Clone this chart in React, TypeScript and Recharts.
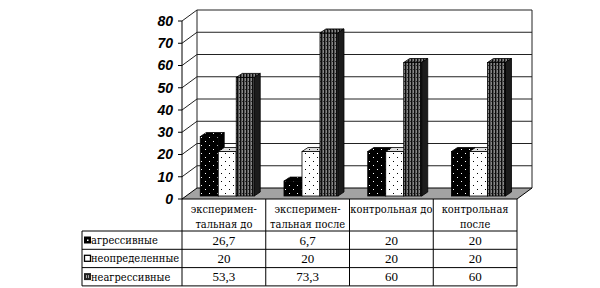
import { BarChart, Bar, XAxis, YAxis, CartesianGrid } from "recharts"

const categories = ["экспериментальная до", "экспериментальная после", "контрольная до", "контрольная после"]
const headerLines = [["эксперимен-", "тальная до"], ["эксперимен-", "тальная после"], ["контрольная до"], ["контрольная", "после"]]
const seriesNames = ["агрессивные", "неопределенные", "неагрессивные"]
const aggressive = [26.7, 6.7, 20, 20]
const undetermined = [20, 20, 20, 20]
const nonAggressive = [53.3, 73.3, 60, 60]
const yTicks = [0, 10, 20, 30, 40, 50, 60, 70, 80]

const data = categories.map((name, i) => ({
    name,
    a: aggressive[i],
    u: undetermined[i],
    n: nonAggressive[i],
}))
const seriesValues = [aggressive, undetermined, nonAggressive]

// layout
const W = 600
const H = 288
const PLOT_LEFT = 182
const PLOT_TOP = 21
const PLOT_RIGHT = 517
const PLOT_BOTTOM = 199
const DX = 15 // depth of the box
const DY = 11
const OX = 4 // bar offset from front plane
const OY = 3
const BDX = 6 // bar thickness
const BDY = 4

const HEAD_BOTTOM = 231
const ROW_H = 18.3
const TABLE_LEFT = 82
// Liberation Serif here has no cyrillic, so words go to DejaVu Serif
const cyr = { fontFamily: "DejaVu Serif", fontSize: 11, fontStretch: "condensed", fill: "#000" }
const num = { fontFamily: "Liberation Serif", fontSize: 13, fill: "#000" }

const fmt = (v: number) => String(v).replace(".", ",")

const faces = [
    { front: "url(#pAgr)", top: "url(#pAgr)", side: "#000" },
    { front: "url(#pUnd)", top: "url(#pUndTop)", side: "#cfcfcf" },
    { front: "url(#pNon)", top: "url(#pNon)", side: "#1c1c1c" },
]

const makeShape = (s: number) => (props: any) => {
    const { x, y, width, height } = props
    if (height == null || width == null) return <g />
    const fx = x + OX
    const fy = y - OY
    const f = faces[s]
    return (
        <g stroke="#000" strokeWidth={0.8}>
            <rect x={fx} y={fy} width={width} height={height} fill={f.front} />
            <polygon
                points={`${fx},${fy} ${fx + BDX},${fy - BDY} ${fx + width + BDX},${fy - BDY} ${fx + width},${fy}`}
                fill={f.top}
            />
            <polygon
                points={`${fx + width},${fy} ${fx + width + BDX},${fy - BDY} ${fx + width + BDX},${fy + height - BDY} ${fx + width},${fy + height}`}
                fill={f.side}
            />
        </g>
    )
}

function GridLine(props: any) {
    const { x, y, width, height, y1 } = props
    const bottom = Math.abs(y1 - (y + height)) < 0.5
    const top = Math.abs(y1 - y) < 0.5
    if (bottom) {
        return (
            <polygon
                points={`${x},${y1} ${x + width},${y1} ${x + width + DX},${y1 - DY} ${x + DX},${y1 - DY}`}
                fill="#a3a3a3"
                stroke="#000"
                strokeWidth={1}
            />
        )
    }
    return (
        <g stroke="#222" strokeWidth={1}>
            <line x1={x} y1={y1} x2={x + DX} y2={y1 - DY} />
            <line x1={x + DX} y1={y1 - DY} x2={x + width + DX} y2={y1 - DY} />
            {top && <line x1={x + DX} y1={y1 - DY} x2={x + DX} y2={y + height - DY} />}
            {top && <line x1={x + width + DX} y1={y1 - DY} x2={x + width + DX} y2={y + height - DY} />}
        </g>
    )
}

function LegendMark({ s, x, y }: { s: number; x: number; y: number }) {
    if (s === 0)
        return (
            <g>
                <rect x={x} y={y} width={7} height={7} fill="#000" />
                <rect x={x + 3} y={y + 3} width={1.5} height={1.5} fill="#fff" />
            </g>
        )
    if (s === 1)
        return (
            <g>
                <rect x={x + 0.5} y={y + 0.5} width={6} height={6} fill="#fff" stroke="#000" strokeWidth={1.3} />
            </g>
        )
    return (
        <g>
            <rect x={x} y={y} width={7} height={7} fill="#222" />
            <rect x={x + 2} y={y + 2} width={1} height={3} fill="#aaa" />
            <rect x={x + 4} y={y + 2} width={1} height={3} fill="#aaa" />
        </g>
    )
}

function TableTick(props: any) {
    const { x, payload } = props
    const i = payload.index
    const bw = (PLOT_RIGHT - PLOT_LEFT) / categories.length
    const left = x - bw / 2
    const right = x + bw / 2
    const bottom = HEAD_BOTTOM + ROW_H * seriesNames.length
    const lines = headerLines[i]
    return (
        <g>
            <line x1={left} y1={PLOT_BOTTOM} x2={left} y2={bottom} stroke="#000" />
            {i === categories.length - 1 && <line x1={right} y1={PLOT_BOTTOM} x2={right} y2={bottom} stroke="#000" />}
            {lines.map((t, k) => (
                <text key={k} x={x} y={PLOT_BOTTOM + 14 + k * 14.5} textAnchor="middle" style={cyr}>
                    {t}
                </text>
            ))}
            {seriesNames.map((_, s) => {
                const rt = HEAD_BOTTOM + s * ROW_H
                return (
                    <g key={s}>
                        <line x1={i === 0 ? TABLE_LEFT : left} y1={rt} x2={right} y2={rt} stroke="#000" />
                        <text x={x} y={rt + 13.5} textAnchor="middle" style={num}>
                            {fmt(seriesValues[s][i])}
                        </text>
                    </g>
                )
            })}
            <line x1={i === 0 ? TABLE_LEFT : left} y1={bottom} x2={right} y2={bottom} stroke="#000" />
            {i === 0 && (
                <g>
                    <line x1={TABLE_LEFT} y1={HEAD_BOTTOM} x2={TABLE_LEFT} y2={bottom} stroke="#000" />
                    {seriesNames.map((nm, s) => {
                        const rt = HEAD_BOTTOM + s * ROW_H
                        return (
                            <g key={s}>
                                <LegendMark s={s} x={TABLE_LEFT + 2} y={rt + 5.5} />
                                <text x={TABLE_LEFT + 9} y={rt + 13} style={cyr}>
                                    {nm}
                                </text>
                            </g>
                        )
                    })}
                </g>
            )}
        </g>
    )
}

export default function App() {
    return (
        <div style={{ position: "absolute", left: 0, top: 0, width: W, height: H, background: "#fff" }}>
            <BarChart
                width={W}
                height={H}
                data={data}
                margin={{ top: PLOT_TOP, right: W - PLOT_RIGHT, left: 0, bottom: 0 }}
                barCategoryGap="17%"
                barGap={0}
            >
                <defs>
                    <pattern id="pAgr" width={8} height={8} patternUnits="userSpaceOnUse">
                        <rect width={8} height={8} fill="#000" />
                        <rect x={1} y={1} width={1} height={1} fill="#fff" />
                        <rect x={5} y={5} width={1} height={1} fill="#fff" />
                    </pattern>
                    <pattern id="pUnd" width={8} height={8} patternUnits="userSpaceOnUse">
                        <rect width={8} height={8} fill="#fff" />
                        <rect x={1} y={1} width={1} height={1} fill="#000" />
                        <rect x={5} y={5} width={1} height={1} fill="#000" />
                    </pattern>
                    <pattern id="pUndTop" width={8} height={8} patternUnits="userSpaceOnUse">
                        <rect width={8} height={8} fill="#dedede" />
                        <rect x={1} y={1} width={1} height={1} fill="#000" />
                        <rect x={5} y={5} width={1} height={1} fill="#000" />
                    </pattern>
                    <pattern id="pNon" width={3} height={4} patternUnits="userSpaceOnUse">
                        <rect width={3} height={4} fill="#555" />
                        <rect x={0} width={1} height={4} fill="#0c0c0c" />
                        <rect x={2} width={1} height={4} fill="#888" />
                        <rect x={2} y={1} width={1} height={1} fill="#333" />
                    </pattern>
                </defs>
                <CartesianGrid vertical={false} horizontal={(p: any) => <GridLine {...p} />} />
                <XAxis
                    dataKey="name"
                    height={H - PLOT_BOTTOM}
                    axisLine={false}
                    tickLine={false}
                    interval={0}
                    tick={<TableTick />}
                />
                <YAxis
                    width={PLOT_LEFT}
                    domain={[0, 80]}
                    ticks={yTicks}
                    interval={0}
                    tickSize={4}
                    tickMargin={5}
                    axisLine={{ stroke: "#000" }}
                    tickLine={{ stroke: "#000" }}
                    tick={{ fill: "#000", fontSize: 14, fontWeight: "bold", fontStyle: "italic", fontFamily: "'Liberation Sans', Arial, sans-serif" }}
                />
                <Bar dataKey="a" name={seriesNames[0]} isAnimationActive={false} shape={makeShape(0)} />
                <Bar dataKey="u" name={seriesNames[1]} isAnimationActive={false} shape={makeShape(1)} />
                <Bar dataKey="n" name={seriesNames[2]} isAnimationActive={false} shape={makeShape(2)} />
            </BarChart>
        </div>
    )
}
